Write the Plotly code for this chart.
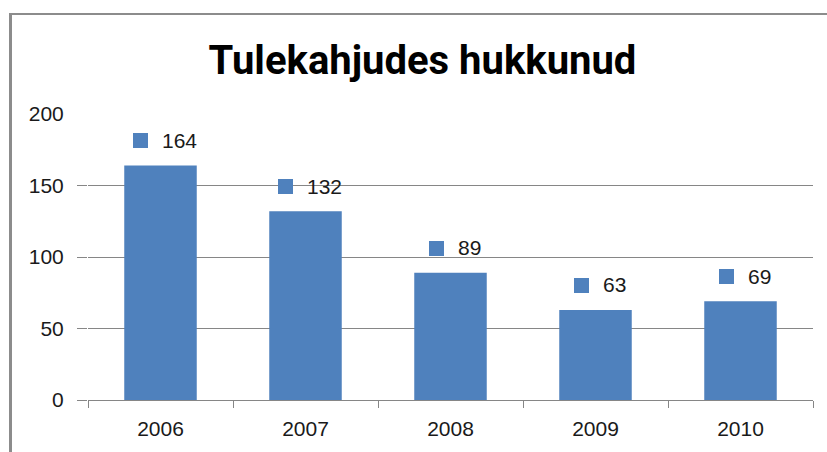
import plotly.graph_objects as go

years = ["2006", "2007", "2008", "2009", "2010"]
deaths = [164, 132, 89, 63, 69]
y_ticks = [0, 50, 100, 150, 200]
title_text = "Tulekahjudes hukkunud"

BLUE = "#4F81BD"
GRID = "#868686"
TXT = "#1a1a1a"
W, H = 827, 452
ML, MR, MT, MB = 88, 14, 114, 52
PW, PH = W - ML - MR, H - MT - MB

fig = go.Figure()
fig.add_trace(go.Bar(x=years, y=deaths, marker_color=BLUE, marker_line_width=0,
                     hoverinfo="x+y"))

LBL_FONT = dict(family="Liberation Sans", size=21, color=TXT)
DIGIT_W, SQ, GAP, OFF = 12.2, 15, 12, 4
for i, v in enumerate(deaths):
    tw = DIGIT_W * len(str(v))
    left = OFF - (SQ + GAP + tw) / 2
    # legend-key square
    fig.add_annotation(x=i, y=v, xref="x", yref="y", text=" ", showarrow=False,
                       width=SQ, height=SQ, bgcolor=BLUE, borderpad=0, borderwidth=0,
                       xanchor="center", yanchor="middle",
                       xshift=left + SQ / 2, yshift=24.5, font=dict(size=1))
    # value
    fig.add_annotation(x=i, y=v, xref="x", yref="y", text=str(v), showarrow=False,
                       xanchor="left", yanchor="middle",
                       xshift=left + SQ + GAP, yshift=25, font=LBL_FONT)

def px_x(p):
    return (p - ML) / PW

def px_y(p):
    return (H - MB - p) / PH

# chart-area border (left and top edges visible)
fig.add_shape(type="line", xref="paper", yref="paper",
              x0=px_x(10.5), x1=px_x(10.5), y0=px_y(13), y1=px_y(460),
              line=dict(color="#8c8c8c", width=3))
fig.add_shape(type="line", xref="paper", yref="paper",
              x0=px_x(9), x1=px_x(840), y0=px_y(14), y1=px_y(14),
              line=dict(color="#8c8c8c", width=2))
# hide tick mark at the top (200) value
fig.add_shape(type="line", xref="paper", yref="paper", layer="above",
              x0=px_x(76), x1=px_x(87.5), y0=1, y1=1,
              line=dict(color="white", width=3))

fig.update_layout(
    width=W, height=H,
    margin=dict(l=ML, r=MR, t=MT, b=MB, autoexpand=False),
    paper_bgcolor="white", plot_bgcolor="white",
    showlegend=False, bargap=0.5,
    title=dict(text=f"<b>{title_text}</b>", x=422.5 / W, xref="container", xanchor="center",
               y=1 - 60 / H, yref="container", yanchor="middle",
               font=dict(family="Roboto", size=40, color="black")),
    xaxis=dict(type="category", range=[-0.5, 4.5], showline=True, linecolor=GRID, linewidth=1,
               ticks="outside", tickson="boundaries", ticklen=7, tickcolor=GRID,
               showgrid=False, ticklabelstandoff=10, tickangle=0, automargin=False,
               tickfont=dict(family="Liberation Sans", size=21, color=TXT)),
    yaxis=dict(range=[0, 200], tickvals=y_ticks, showgrid=True, gridcolor=GRID,
               zeroline=False, ticks="outside", ticklen=10, tickcolor=GRID,
               ticklabelstandoff=9, automargin=False,
               tickfont=dict(family="Liberation Sans", size=21, color=TXT)),
)

fig.write_html("out.html", config={"displayModeBar": False},
               post_script="document.body.style.margin='0';document.body.style.overflow='hidden';")
